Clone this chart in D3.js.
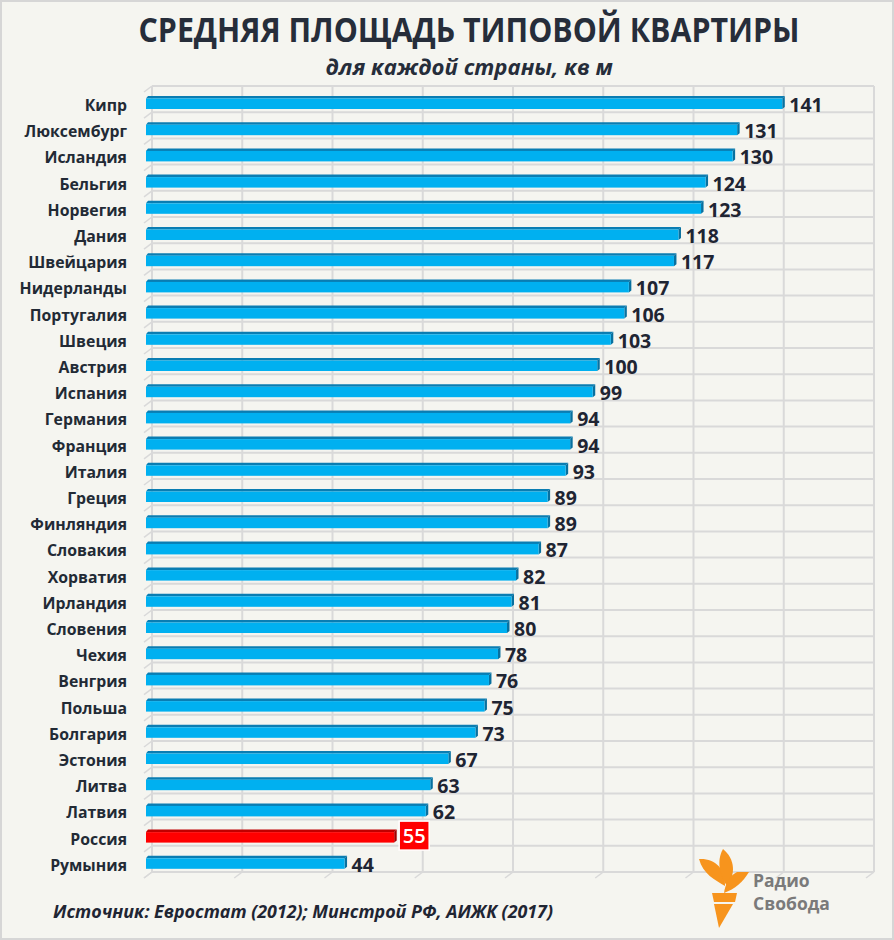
<!DOCTYPE html>
<html><head><meta charset="utf-8">
<script src="https://cdn.jsdelivr.net/npm/d3@7"></script>
<style>html,body{margin:0;padding:0;background:#fff;}svg{display:block;}</style>
</head><body>
<script>
const categories = ["Кипр","Люксембург","Исландия","Бельгия","Норвегия","Дания","Швейцария","Нидерланды","Португалия","Швеция","Австрия","Испания","Германия","Франция","Италия","Греция","Финляндия","Словакия","Хорватия","Ирландия","Словения","Чехия","Венгрия","Польша","Болгария","Эстония","Литва","Латвия","Россия","Румыния"];
const values = [141,131,130,124,123,118,117,107,106,103,100,99,94,94,93,89,89,87,82,81,80,78,76,75,73,67,63,62,55,44];
const highlight = ["Россия"];
const axisTicks = [0,20,40,60,80,100,120,140,160];
const titleText = "СРЕДНЯЯ ПЛОЩАДЬ ТИПОВОЙ КВАРТИРЫ";
const subtitleText = "для каждой страны, кв м";
const sourceText = "Источник: Евростат (2012); Минстрой РФ, АИЖК (2017)";
const logoLines = ["Радио","Свобода"];

const W = 894, H = 940;
const svg = d3.select("body").append("svg").attr("width", W).attr("height", H);
svg.append("rect").attr("x",0).attr("y",0).attr("width",W).attr("height",H).attr("fill","#f5f5f0");
svg.append("rect").attr("x",1).attr("y",1).attr("width",W-2).attr("height",H-2).attr("fill","none").attr("stroke","#d6d6d6").attr("stroke-width",2);

const x = d3.scaleLinear().domain([0,160]).range([152,874]);
const y = d3.scaleBand().domain(categories).range([86,872]).padding(0);
const dx = -6, wdx = -8, wdy = 6;
const grid = "#d9d9d9";

const g = svg.append("g");
g.selectAll("line.vg").data(axisTicks).join("line")
  .attr("x1", d=>x(d)).attr("x2", d=>x(d)).attr("y1", 86).attr("y2", 872)
  .attr("stroke", grid).attr("stroke-width", 2);
g.selectAll("line.fd").data(axisTicks).join("line")
  .attr("x1", d=>x(d)).attr("x2", d=>x(d)+wdx).attr("y1", 872).attr("y2", 872+wdy)
  .attr("stroke", grid).attr("stroke-width", 1.5);
const bounds = categories.map(c=>y(c)).concat([872]);
g.selectAll("line.hg").data(bounds).join("line")
  .attr("x1", x(0)).attr("x2", x(160)).attr("y1", d=>d).attr("y2", d=>d)
  .attr("stroke", grid).attr("stroke-width", 2);
g.selectAll("line.ld").data(bounds).join("line")
  .attr("x1", x(0)).attr("x2", x(0)+wdx).attr("y1", d=>d).attr("y2", d=>d+wdy)
  .attr("stroke", grid).attr("stroke-width", 1.5);

const bars = svg.append("g");
const labels = svg.append("g");
categories.forEach((c,i)=>{
  const v = values[i];
  const hi = highlight.includes(c);
  const front = hi ? "#ff0000" : "#00b0f0";
  const top = hi ? "#c00000" : "#0a7db2";
  const side = hi ? "#a00000" : "#08709f";
  const y0 = y(c);
  const yt = y0+10, yb = y0+23;
  const x0 = x(0)+dx, x1 = x(v)+dx;
  bars.append("path").attr("d",`M${x0},${yt+2.5}L${x0+2},${yt}L${x1+2.5},${yt}L${x1},${yt+2.5}Z`).attr("fill",top);
  bars.append("path").attr("d",`M${x1},${yt+2.5}L${x1+2.5},${yt}L${x1+2.5},${yb-2}L${x1},${yb}Z`).attr("fill",side);
  bars.append("rect").attr("x",x0).attr("y",yt+2.5).attr("width",x1-x0).attr("height",yb-yt-2.5).attr("fill",front);
  labels.append("text").attr("x",127).attr("y",y0+25).attr("text-anchor","end")
    .attr("font-family","'Open Sans'").attr("font-weight",700).attr("font-size",15.8)
    .attr("fill","#222a35").text(c);
  if (hi) {
    labels.append("rect").attr("x",x1+5).attr("y",y0+1.5).attr("width",30).attr("height",29)
      .attr("fill","#ff0000").attr("stroke","#ffffff").attr("stroke-width",1.5);
    labels.append("text").attr("x",x1+20).attr("y",y0+23.5).attr("text-anchor","middle")
      .attr("font-family","'Open Sans'").attr("font-weight",600).attr("font-size",20)
      .attr("fill","#ffffff").text(v);
  } else {
    labels.append("text").attr("x",x1+7).attr("y",y0+26).attr("text-anchor","start")
      .attr("font-family","'Open Sans'").attr("font-weight",700).attr("font-size",19.5)
      .attr("fill","#1f2533").text(v);
  }
});

svg.append("text").attr("x",469).attr("y",42).attr("text-anchor","middle")
  .attr("font-family","'Open Sans'").attr("font-weight",700).attr("font-size",34)
  .attr("fill","#262d3a").attr("textLength",661).attr("lengthAdjust","spacingAndGlyphs").text(titleText);
svg.append("text").attr("x",469).attr("y",75).attr("text-anchor","middle")
  .attr("font-family","'Open Sans'").attr("font-weight",700).attr("font-style","italic").attr("font-size",22)
  .attr("fill","#262d3a").attr("textLength",287).attr("lengthAdjust","spacingAndGlyphs").text(subtitleText);

svg.append("text").attr("x",53).attr("y",918)
  .attr("font-family","'Open Sans'").attr("font-weight",700).attr("font-style","italic").attr("font-size",17)
  .attr("fill","#1f2533").attr("textLength",500).attr("lengthAdjust","spacingAndGlyphs").text(sourceText);

const logo = svg.append("g").attr("fill","#f7941d");
logo.append("path").attr("d","M699,859 C714,858 726,868 725,886 C715,880 703,874 699,859 Z");
logo.append("path").attr("d","M723,849 C735,859 736,874 727,886 C720,876 716,861 723,849 Z");
logo.append("path").attr("d","M749,872 L737,872 C729,876 725,885 724,893 C735,889 743,882 749,872 Z");
logo.append("path").attr("d","M712,893 L737,893 L735,902 L714,902 Z");
logo.append("path").attr("d","M714,904 L733,904 L719,928 Z");
svg.selectAll("text.logo").data(logoLines).join("text").attr("class","logo")
  .attr("x",753).attr("y",(d,i)=>887+i*23)
  .attr("font-family","'Open Sans'").attr("font-weight",700).attr("font-size",17.5)
  .attr("fill","#7a7a7a").text(d=>d);
</script>
</body></html>
